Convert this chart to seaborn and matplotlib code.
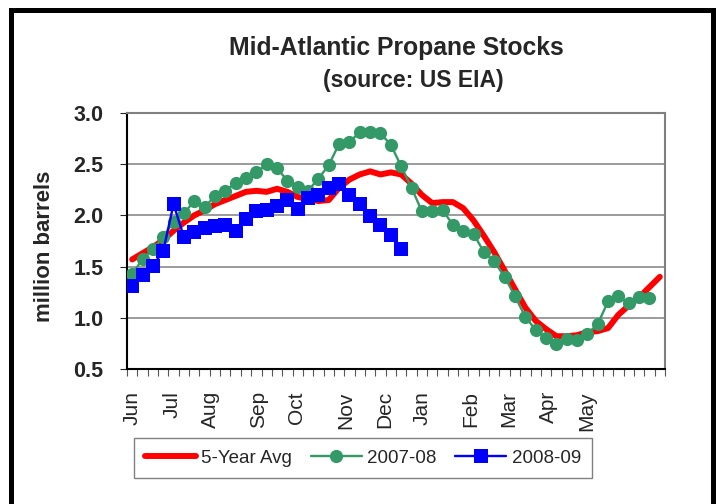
import matplotlib
matplotlib.use("Agg")
import matplotlib.pyplot as plt
import seaborn as sns
import pandas as pd
from matplotlib.patches import Rectangle
from matplotlib.ticker import FixedLocator, MultipleLocator

# weekly stocks, million barrels (week 0 = first week of June)
avg_5yr = [1.57, 1.63, 1.69, 1.76, 1.85, 1.93, 2.00, 2.05, 2.11, 2.15,
           2.19, 2.23, 2.24, 2.23, 2.26, 2.23, 2.18, 2.16, 2.14, 2.15,
           2.27, 2.35, 2.40, 2.43, 2.40, 2.42, 2.40, 2.31, 2.20, 2.12,
           2.13, 2.13, 2.07, 1.95, 1.80, 1.64, 1.46, 1.28, 1.10, 0.97,
           0.89, 0.82, 0.82, 0.83, 0.86, 0.87, 0.90, 1.03, 1.12, 1.20,
           1.30, 1.40]
stocks_0708 = [1.43, 1.57, 1.67, 1.79, 1.94, 2.02, 2.14, 2.08, 2.19, 2.24,
               2.32, 2.37, 2.42, 2.50, 2.46, 2.34, 2.28, 2.24, 2.36, 2.49,
               2.70, 2.72, 2.81, 2.81, 2.80, 2.69, 2.48, 2.27, 2.04, 2.04,
               2.05, 1.91, 1.85, 1.82, 1.64, 1.55, 1.40, 1.21, 1.01, 0.88,
               0.80, 0.74, 0.79, 0.78, 0.84, 0.94, 1.16, 1.21, 1.14, 1.20,
               1.19]
stocks_0809 = [1.31, 1.42, 1.51, 1.65, 2.11, 1.79, 1.84, 1.88, 1.90, 1.91,
               1.85, 1.96, 2.04, 2.05, 2.09, 2.15, 2.06, 2.17, 2.20, 2.27,
               2.31, 2.20, 2.11, 1.99, 1.91, 1.81, 1.67]
months = ["Jun", "Jul", "Aug", "Sep", "Oct", "Nov", "Dec", "Jan", "Feb", "Mar", "Apr", "May"]
month_week = [0, 3.9, 7.6, 12.2, 15.9, 20.6, 24.4, 28, 32.7, 36.4, 40.2, 43.9]

df_avg = pd.DataFrame({"week": range(len(avg_5yr)), "stocks": avg_5yr})
df_0708 = pd.DataFrame({"week": range(len(stocks_0708)), "stocks": stocks_0708})
df_0809 = pd.DataFrame({"week": range(len(stocks_0809)), "stocks": stocks_0809})

sns.set_style("white")
plt.rcParams["font.family"] = ["Liberation Sans", "DejaVu Sans"]

fig = plt.figure(figsize=(7.16, 5.04), dpi=100)
ax = fig.add_axes([127/716, 1-369/504, 538/716, 256/504])

sns.lineplot(data=df_avg, x="week", y="stocks", ax=ax, color="#FF0000", lw=4.3,
             label="5-Year Avg", zorder=3)
sns.lineplot(data=df_0708, x="week", y="stocks", ax=ax, color="#339966", lw=1.7,
             marker="o", markersize=9.5, markeredgewidth=0, label="2007-08", zorder=4)
sns.lineplot(data=df_0809, x="week", y="stocks", ax=ax, color="#0000FF", lw=1.7,
             marker="s", markersize=10.5, markeredgewidth=0, label="2008-09", zorder=5)

ax.set_xlim(-0.5, len(avg_5yr) - 0.5)
ax.set_ylim(0.5, 3.0)
ax.yaxis.set_major_locator(MultipleLocator(0.5))
ax.set_yticklabels([f"{v:.1f}" for v in ax.get_yticks()], fontsize=15.5, fontweight="bold")
ax.grid(axis="y", color="#808080", lw=1.1)
ax.grid(axis="x", visible=False)

ax.xaxis.set_major_locator(FixedLocator(month_week))
ax.set_xticklabels(months, rotation=90, fontsize=15)
ax.xaxis.set_minor_locator(FixedLocator([w - 0.5 for w in range(len(avg_5yr) + 1)]))
ax.tick_params(axis="x", which="major", length=0, pad=16)
ax.tick_params(axis="x", which="minor", length=5, width=0.8, color="#555555", direction="out", bottom=True)
ax.tick_params(axis="y", length=5, width=0.8, left=True, pad=12)
ax.set_xlabel("")
ax.set_ylabel("")

for side in ["left", "bottom"]:
    ax.spines[side].set_color("black")
    ax.spines[side].set_linewidth(1.5)
for side in ["top", "right"]:
    ax.spines[side].set_color("#808080")
    ax.spines[side].set_linewidth(1.5)

fig.text(396/716, 1-48/504, "Mid-Atlantic Propane Stocks", ha="center", va="center",
         fontsize=17.8, fontweight="bold")
fig.text(413/716, 1-80/504, "(source: US EIA)", ha="center", va="center",
         fontsize=16.5, fontweight="bold")
fig.text(45/716, 1-246/504, "million barrels", ha="center", va="center", rotation=90,
         fontsize=16, fontweight="bold")

ax.legend(loc="center", bbox_to_anchor=(363/716, 1-458/504), bbox_transform=fig.transFigure,
          ncol=3, fontsize=13.5, frameon=True, fancybox=False, edgecolor="#808080",
          framealpha=1, handlelength=2.7, columnspacing=1.0, handletextpad=0.3,
          borderpad=0.6, borderaxespad=0)

fig.patches.append(Rectangle((10.5/716, -0.1), 702/716, 1.1 - 10.5/504, transform=fig.transFigure,
                             fill=False, edgecolor="black", lw=3.6, clip_on=False))

plt.savefig("out.png", dpi=100)
plt.close()
